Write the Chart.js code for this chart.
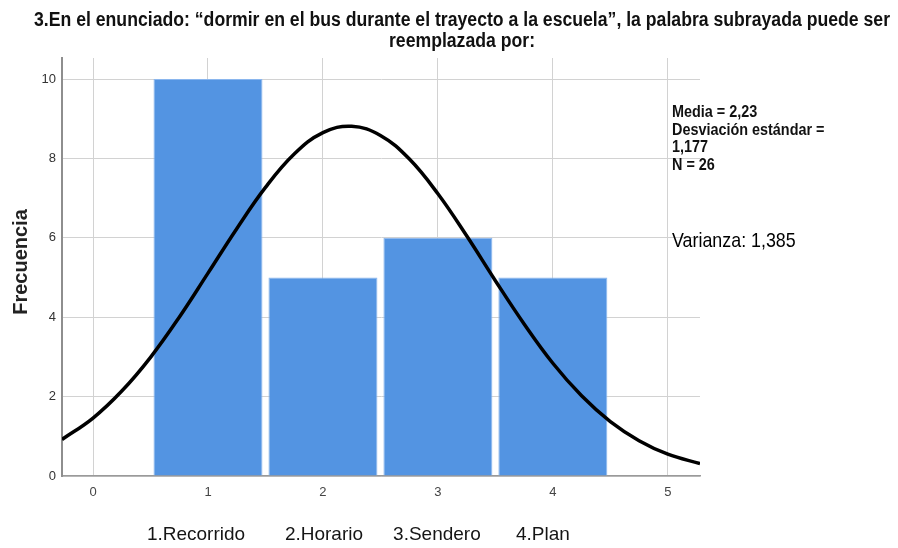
<!DOCTYPE html>
<html>
<head>
<meta charset="utf-8">
<script src="https://cdn.jsdelivr.net/npm/chart.js@4.4.1/dist/chart.umd.min.js"></script>
<style>
  html, body { margin: 0; padding: 0; background: #fff; }
  #wrap { width: 898px; height: 548px; }
</style>
</head>
<body>
<div id="wrap"><canvas id="c" width="898" height="548"></canvas></div>
<script>
// Histogram: answers to question 3
const binCenters = [1, 2, 3, 4];
const frequencies = [10, 5, 6, 5];
const categoryLabels = ['1.Recorrido', '2.Horario', '3.Sendero', '4.Plan'];
const xTickValues = [0, 1, 2, 3, 4, 5];
const yTickValues = [0, 2, 4, 6, 8, 10];

// Fitted normal curve (frequency scale)
const curveX = [-0.27, 0, 0.25, 0.5, 0.75, 1, 1.25, 1.5, 1.75, 2, 2.25, 2.5, 2.75, 3, 3.25, 3.5, 3.75, 4, 4.25, 4.5, 4.75, 5, 5.28];
const curveY = [0.92, 1.46, 2.14, 2.99, 4.00, 5.11, 6.23, 7.27, 8.11, 8.65, 8.81, 8.58, 7.99, 7.11, 6.05, 4.92, 3.83, 2.84, 2.02, 1.37, 0.89, 0.55, 0.31];

const titleLines = [
  '3.En el enunciado: \u201cdormir en el bus durante el trayecto a la escuela\u201d, la palabra subrayada puede ser',
  'reemplazada por:'
];
const yAxisTitle = 'Frecuencia';
const statLines = ['Media = 2,23', 'Desviación estándar =', '1,177', 'N = 26'];
const varianceText = 'Varianza: 1,385';

const X_MIN = -0.27, X_MAX = 5.28, Y_MAX = 10.53;
const SANS = '"Liberation Sans", Arial, Helvetica, sans-serif';

// Text drawn around the plot: title, axis title, category names, statistics
const annotations = {
  id: 'annotations',
  afterDraw(chart) {
    const ctx = chart.ctx;
    const xs = chart.scales.x;
    ctx.save();
    ctx.fillStyle = '#111';
    ctx.textBaseline = 'alphabetic';

    // Title, condensed to its line width
    ctx.font = 'bold 20px ' + SANS;
    ctx.textAlign = 'center';
    const sx = Math.min(1, 856 / ctx.measureText(titleLines[0]).width);
    titleLines.forEach((t, i) => {
      ctx.save();
      ctx.translate(462, 26 + i * 20.7);
      ctx.scale(sx, 1);
      ctx.fillText(t, 0, 0);
      ctx.restore();
    });

    // Vertical axis title
    ctx.save();
    ctx.translate(27, 262);
    ctx.rotate(-Math.PI / 2);
    ctx.font = 'bold 20px ' + SANS;
    ctx.textAlign = 'center';
    ctx.fillStyle = '#222';
    ctx.fillText(yAxisTitle, 0, 0);
    ctx.restore();

    // Category names under the bins
    const labelShift = [-12, 1, -1, -10];
    ctx.font = '19px ' + SANS;
    ctx.textAlign = 'center';
    ctx.fillStyle = '#151515';
    binCenters.forEach((v, i) => {
      ctx.fillText(categoryLabels[i], xs.getPixelForValue(v) + labelShift[i], 540);
    });

    // Summary statistics
    ctx.textAlign = 'left';
    ctx.fillStyle = '#111';
    ctx.font = 'bold 16px ' + SANS;
    statLines.forEach((t, i) => {
      ctx.save();
      ctx.translate(672, 117 + i * 17.7);
      ctx.scale(0.9, 1);
      ctx.fillText(t, 0, 0);
      ctx.restore();
    });
    ctx.font = '21px ' + SANS;
    ctx.fillStyle = '#000';
    ctx.save();
    ctx.translate(672, 247);
    ctx.scale(0.85, 1);
    ctx.fillText(varianceText, 0, 0);
    ctx.restore();

    ctx.restore();
  }
};

new Chart(document.getElementById('c'), {
  type: 'bar',
  data: {
    datasets: [
      {
        type: 'line',
        data: curveX.map((x, i) => ({ x, y: curveY[i] })),
        borderColor: '#000',
        borderWidth: 3.5,
        pointRadius: 0,
        tension: 0.4,
        fill: false,
        order: 0
      },
      {
        type: 'bar',
        data: binCenters.map((x, i) => ({ x, y: frequencies[i] })),
        backgroundColor: '#5394e2',
        borderColor: '#8ab6ee',
        borderWidth: 1,
        barPercentage: 0.948,
        categoryPercentage: 1,
        order: 1
      }
    ]
  },
  options: {
    responsive: false,
    animation: false,
    devicePixelRatio: 1,
    layout: { padding: { left: 0, top: 58, right: 198, bottom: 0 } },
    plugins: { legend: { display: false }, tooltip: { enabled: false }, title: { display: false } },
    scales: {
      x: {
        type: 'linear',
        min: X_MIN,
        max: X_MAX,
        offset: false,
        afterBuildTicks(s) { s.ticks = xTickValues.map(v => ({ value: v })); },
        afterFit(s) { s.height = 72; },
        grid: { color: '#d2d2d2', lineWidth: 1, drawTicks: false, offset: false },
        border: { color: '#9a9a9a', width: 1.5 },
        ticks: { padding: 9, color: '#444', font: { family: SANS, size: 13 } }
      },
      y: {
        type: 'linear',
        min: 0,
        max: Y_MAX,
        afterBuildTicks(s) { s.ticks = yTickValues.map(v => ({ value: v })); },
        afterFit(s) { s.width = 62; },
        grid: { color: '#d2d2d2', lineWidth: 1, drawTicks: false },
        border: { color: '#8e8e8e', width: 2 },
        ticks: { padding: 6, color: '#333', font: { family: SANS, size: 13 } }
      }
    }
  },
  plugins: [annotations]
});
</script>
</body>
</html>
